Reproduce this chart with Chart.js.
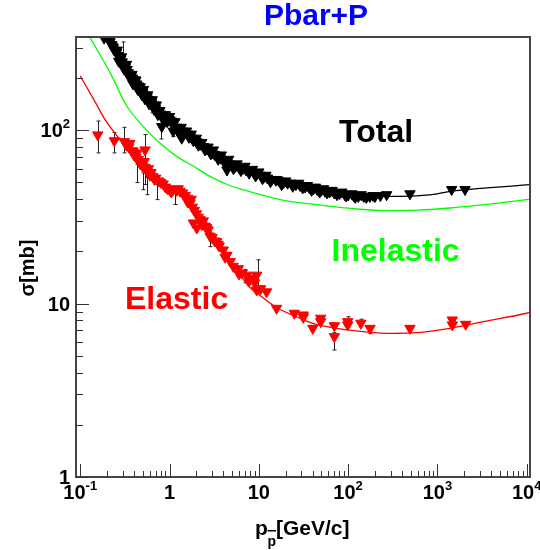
<!DOCTYPE html>
<html>
<head>
<meta charset="utf-8">
<script src="https://cdn.jsdelivr.net/npm/chart.js@4.4.0/dist/chart.umd.min.js"></script>
<style>
    body { margin: 0; background: #fff; }
    #wrap { width: 540px; height: 550px; }
</style>
</head>
<body>
<div id="wrap"><canvas id="chart" width="540" height="550"></canvas></div>
<script>
// Dados (p em GeV/c, sigma em mb)
const totalX = [0.185, 0.20, 0.215, 0.225, 0.235, 0.24, 0.25, 0.255, 0.265, 0.275, 0.285, 0.295, 0.30, 0.31, 0.32, 0.335, 0.345, 0.36, 0.37, 0.385,
    0.40, 0.41, 0.43, 0.45, 0.46, 0.48, 0.50, 0.52, 0.54, 0.56, 0.58, 0.61, 0.63, 0.66, 0.70, 0.73, 0.76, 0.80, 0.82, 0.85,
    0.88, 0.92, 0.96, 1.0, 1.05, 1.1, 1.12, 1.2, 1.3, 1.37, 1.4, 1.5, 1.6, 1.7, 1.8, 1.9, 2.0, 2.2, 2.4, 2.6,
    2.8, 3.0, 3.2, 3.4, 3.7, 4.0, 4.4, 4.4, 4.7, 5.0, 5.5, 6.0, 6.6, 7.2, 8.0, 8.8, 9.5, 10.5, 11.5, 12.5,
    14, 15.5, 17, 19, 21, 23, 26, 29, 33, 37, 41, 45, 50, 55, 62, 70, 80, 92, 100, 115,
    130, 150, 175, 200, 230, 270, 493, 1445, 2040,
    // bordas da faixa densa
    0.22, 0.23, 0.26, 0.27, 0.29, 0.31, 0.33, 0.35, 0.38, 0.39, 0.42, 0.44, 0.47, 0.49, 0.51, 0.53, 0.57, 0.59, 0.64, 0.67,
    0.71, 0.74, 0.78, 0.84, 0.90, 0.94, 1.0, 1.08, 1.15, 1.25, 1.35, 1.45, 1.55, 1.65, 1.75, 1.85, 2.0, 2.1, 2.3, 2.5,
    2.7, 2.9, 3.1, 3.5, 3.8, 4.2, 4.6, 5.2, 5.7, 6.3, 7.0, 7.8, 8.5, 9.2, 10, 11, 12, 13.5, 16, 18,
    20, 24, 28, 31, 35, 39, 43, 48, 53, 58, 66, 75, 85, 95, 110, 120, 140, 160, 190];
const totalY = [340, 345, 322, 312, 300, 290, 288, 280, 270, 262, 258, 248, 240, 236, 230, 224, 215, 210, 205, 200,
    196, 190, 185, 180, 174, 170, 165, 160, 156, 154, 150, 147, 144, 140, 134, 130, 128, 124, 105, 122,
    120, 118, 116, 115, 113, 98.7, 110, 104, 101, 90, 99, 97, 95, 92, 90, 88, 86, 83, 80.5, 78,
    76, 74, 72.5, 71, 69, 67, 65, 59, 64, 63, 62, 61, 60, 59, 58, 57, 56, 55, 54, 53,
    52, 51.5, 51, 50, 49.5, 49.5, 48.5, 48, 47, 46.5, 46, 45.5, 45, 44.5, 44, 43.5, 43, 42.5, 42.3, 42,
    41.5, 41.5, 41.5, 41.5, 42, 42.5, 43, 45.5, 45.5,
    335, 305, 290, 250, 265, 225, 240, 205, 210, 185, 195, 172, 178, 160, 172, 152, 160, 142, 150, 132,
    140, 123, 130, 116, 123, 112, 120, 108, 112, 98, 104, 95, 99, 91, 95, 87, 90, 82, 85, 77,
    80, 73, 77, 68, 72, 64, 68, 60, 64, 58.5, 62, 56.5, 59.5, 54.5, 57.5, 52.5, 55, 50.5, 52, 48.5,
    51, 47.5, 49.5, 46.5, 48, 45, 47, 44, 46, 43.5, 45, 42.5, 44, 41.8, 43, 41, 42.5, 41, 42];

const elasticX = [0.157, 0.241, 0.312, 0.35, 0.377, 0.40, 0.42, 0.448, 0.47, 0.50, 0.532, 0.532, 0.56, 0.605, 0.65,
    0.70, 0.76, 0.85, 0.90, 0.95, 1.0, 1.1, 1.2, 1.31, 1.4, 1.5, 1.6, 1.7, 1.8, 1.85,
    1.9, 2.0, 2.02, 2.1, 2.2, 2.39, 2.5, 2.7, 2.84, 3.0, 3.2, 3.38, 3.6, 4.0, 4.4,
    4.8, 5.18, 5.9, 6.5, 7.33, 8.32, 9.0, 9.46, 9.46, 10.5, 12.2, 15.8, 25, 31.5, 31.5,
    40.2, 49.3, 49.3, 70.2, 70.2, 99, 99, 139, 176, 493, 1470, 1470, 2075,
    0.33, 0.36, 0.39, 0.43, 0.46, 0.52, 0.58, 0.62, 0.68, 0.8, 1.05, 1.25, 1.6, 1.75, 2.3, 2.6, 3.5, 4.2, 6.0, 7.8];
const elasticY = [94, 87, 86, 80, 76, 72, 70, 68, 64, 62, 77, 61, 58, 55, 54,
    53, 51, 49, 47, 46, 45.5, 45.4, 45, 44.5, 43.5, 42, 40.5, 38, 36, 29.2,
    34.5, 33, 27.3, 31.5, 30.5, 30, 28, 26.5, 24.5, 24, 23, 22.8, 21.5, 20.4, 19,
    17.5, 16.4, 15.9, 15, 14.6, 14.0, 13.2, 14.6, 12.0, 12.2, 11.7, 9.4, 8.8, 8.6, 8.34,
    7.2, 8.24, 7.87, 7.46, 6.45, 7.87, 7.54, 7.71, 7.2, 7.2, 8.05, 7.54, 7.6,
    82, 84, 76, 74, 66, 66, 60, 57, 52, 50, 44, 46, 38.5, 40, 28.5, 27.5, 22, 18.5, 14.8, 13.5];

// Barras de erro visíveis
const totalErrX = [0.30, 0.63, 0.80, 1.1];
const totalErrLo = [240, 126, 89, 92];
const totalErrHi = [323, 150, 125, 104];

const elasticErrX = [0.157, 0.241, 0.312, 0.43, 0.51, 0.532, 0.555, 0.72, 1.15, 2.84, 7.0, 9.7, 70.2, 99, 139, 176];
const elasticErrLo = [74, 74, 74, 49.9, 45.4, 48.6, 42.5, 39.8, 37.3, 21.3, 13.2, 11.5, 5.4, 7.6, 7.7, 6.74];
const elasticErrHi = [113, 97, 104, 63.4, 56.7, 94.4, 53.4, 48.6, 44.3, 27.9, 15.7, 17.9, 6.8, 8.4, 8.13, 7.3];

// Curvas ajustadas
const totalFitX = [0.2, 0.267, 0.411, 0.632, 1.0, 1.5, 2.3, 3.1, 4.4, 7.6, 11.2, 23, 48, 100, 250, 500, 1000, 1450, 3000, 10000, 10890];
const totalFitY = [360, 274, 196, 147, 115, 97, 82, 73.5, 65, 58.5, 54, 49.5, 45.8, 42.8, 41.6, 41.7, 43, 44.5, 46.2, 48.4, 48.6];

const elasticFitX = [0.1, 0.15, 0.19, 0.29, 0.45, 0.7, 1.0, 1.4, 2.0, 3.0, 4.0, 5.2, 7.9, 10, 15.8, 25, 40, 100, 294, 586, 1380, 3270, 10000, 10890];
const elasticFitY = [206, 143, 115, 86, 66, 54, 47.5, 42, 34, 25.5, 20.8, 16.8, 12.4, 11.3, 9.5, 8.5, 7.7, 7.05, 6.74, 6.8, 7.2, 7.87, 8.8, 8.9];

const inelasticFitX = [0.1, 0.126, 0.216, 0.332, 0.51, 0.78, 1.2, 1.85, 2.84, 4.5, 6.7, 17.3, 44.5, 100, 248, 600, 1380, 4000, 10000, 10890];
const inelasticFitY = [430, 349, 215, 138, 105, 84.5, 70.7, 62, 54.2, 48.5, 45.4, 39.8, 37.2, 35.5, 34.4, 34.6, 35.6, 37.6, 39.8, 40];

// Rótulos dos eixos
const xTickValues = [0.1, 1, 10, 100, 1000, 10000];
const xTickLabels = [['10', '-1'], ['1', ''], ['10', ''], ['10', '2'], ['10', '3'], ['10', '4']];
const yTickValues = [1, 10, 100];
const yTickLabels = [['1', ''], ['10', ''], ['10', '2']];

const FONT = '"Liberation Sans", Arial, sans-serif';

function pairs(xs, ys) {
    return xs.map((x, i) => ({ x: x, y: ys[i] }));
}

function drawSupLabel(ctx, base, sup, x, y, align) {
    ctx.font = 'bold 20px ' + FONT;
    const wb = ctx.measureText(base).width;
    ctx.font = 'bold 13px ' + FONT;
    const ws = sup ? ctx.measureText(sup).width : 0;
    const total = wb + ws;
    const sx = align === 'right' ? x - total : x - total / 2;
    ctx.textAlign = 'left';
    ctx.textBaseline = 'alphabetic';
    ctx.font = 'bold 20px ' + FONT;
    ctx.fillText(base, sx, y);
    if (sup) {
        ctx.font = 'bold 13px ' + FONT;
        ctx.fillText(sup, sx + wb, y - 9);
    }
}

function drawErrors(ctx, xs, ys, xv, lo, hi) {
    for (let i = 0; i < xv.length; i++) {
        const px = Math.round(xs.getPixelForValue(xv[i])) + 0.5;
        const p1 = ys.getPixelForValue(lo[i]);
        const p2 = ys.getPixelForValue(hi[i]);
        ctx.beginPath();
        ctx.moveTo(px, p1);
        ctx.lineTo(px, p2);
        ctx.moveTo(px - 2, p1);
        ctx.lineTo(px + 2, p1);
        ctx.moveTo(px - 2, p2);
        ctx.lineTo(px + 2, p2);
        ctx.stroke();
    }
}

// Plugin estilo ROOT: moldura, ticks internos, textos
const rootStyle = {
    id: 'rootStyle',
    beforeDatasetsDraw(chart) {
        const ctx = chart.ctx;
        const a = chart.chartArea;
        ctx.save();
        ctx.beginPath();
        ctx.rect(a.left, a.top, a.right - a.left, a.bottom - a.top);
        ctx.clip();
        ctx.strokeStyle = '#222';
        ctx.lineWidth = 1;
        drawErrors(ctx, chart.scales.x, chart.scales.y, totalErrX, totalErrLo, totalErrHi);
        drawErrors(ctx, chart.scales.x, chart.scales.y, elasticErrX, elasticErrLo, elasticErrHi);
        ctx.restore();
    },
    afterDraw(chart) {
        const ctx = chart.ctx;
        const a = chart.chartArea;
        const xs = chart.scales.x;
        const ys = chart.scales.y;
        ctx.save();

        // moldura
        ctx.strokeStyle = '#444';
        ctx.lineWidth = 2;
        ctx.strokeRect(a.left, a.top, a.right - a.left, a.bottom - a.top);

        // ticks
        ctx.lineWidth = 1;
        ctx.strokeStyle = '#333';
        ctx.beginPath();
        for (let d = 0.1; d <= 10000; d *= 10) {
            for (let k = 1; k <= 9; k++) {
                const v = k * d;
                if (v < xs.min || v > xs.max) continue;
                const px = Math.round(xs.getPixelForValue(v)) + 0.5;
                const len = k === 1 ? 13 : 6;
                ctx.moveTo(px, a.bottom);
                ctx.lineTo(px, a.bottom - len);
            }
        }
        for (let d = 1; d <= 100; d *= 10) {
            for (let k = 1; k <= 9; k++) {
                const v = k * d;
                if (v < ys.min || v > ys.max) continue;
                const py = Math.round(ys.getPixelForValue(v)) + 0.5;
                const len = k === 1 ? 13 : 7;
                ctx.moveTo(a.left, py);
                ctx.lineTo(a.left + len, py);
            }
        }
        ctx.stroke();

        // rótulos dos ticks
        ctx.fillStyle = '#000';
        xTickValues.forEach((v, i) => {
            drawSupLabel(ctx, xTickLabels[i][0], xTickLabels[i][1], xs.getPixelForValue(v), 498.5, 'center');
        });
        yTickValues.forEach((v, i) => {
            drawSupLabel(ctx, yTickLabels[i][0], yTickLabels[i][1], 70, ys.getPixelForValue(v) + 7, 'right');
        });

        // título do eixo x: p com subscrito p-barra
        ctx.textAlign = 'left';
        ctx.textBaseline = 'alphabetic';
        ctx.font = 'bold 21px ' + FONT;
        ctx.fillText('p', 255, 535);
        ctx.font = 'bold 14px ' + FONT;
        const wsub = ctx.measureText('p').width;
        ctx.fillText('p', 267.5, 546);
        ctx.fillRect(267.5, 530, wsub, 1.5);
        ctx.font = 'bold 21px ' + FONT;
        ctx.fillText('[GeV/c]', 276, 535);

        // título do eixo y
        ctx.save();
        ctx.translate(28, 268);
        ctx.rotate(-Math.PI / 2);
        ctx.textAlign = 'center';
        ctx.textBaseline = 'middle';
        ctx.font = 'bold 20px ' + FONT;
        ctx.fillText('σ[mb]', 0, 0);
        ctx.restore();

        // título
        ctx.textAlign = 'center';
        ctx.fillStyle = '#0000ff';
        ctx.font = 'bold 30px ' + FONT;
        ctx.fillText('Pbar+P', 316, 25);

        // legendas dentro do gráfico
        ctx.textAlign = 'left';
        ctx.font = 'bold 32px ' + FONT;
        ctx.fillStyle = '#000';
        ctx.fillText('Total', 339, 141.5);
        ctx.fillStyle = '#00ff00';
        ctx.fillText('Inelastic', 331.5, 260.5);
        ctx.fillStyle = '#ff0000';
        ctx.fillText('Elastic', 125, 309);
        ctx.restore();
    }
};

function markers(xs, ys, color) {
    return {
        data: pairs(xs, ys),
        pointStyle: 'triangle',
        rotation: 180,
        pointRadius: 6,
        backgroundColor: color,
        borderColor: color,
        borderWidth: 1,
        showLine: false,
        order: 1
    };
}

function fitLine(xs, ys, color) {
    return {
        data: pairs(xs, ys),
        showLine: true,
        pointRadius: 0,
        borderColor: color,
        borderWidth: 1.3,
        cubicInterpolationMode: 'monotone',
        fill: false,
        order: 2
    };
}

const ctx = document.getElementById('chart').getContext('2d');
new Chart(ctx, {
    type: 'scatter',
    data: {
        datasets: [
            fitLine(inelasticFitX, inelasticFitY, '#00ff00'),
            fitLine(elasticFitX, elasticFitY, '#ff0000'),
            fitLine(totalFitX, totalFitY, '#000000'),
            markers(totalX, totalY, '#000000'),
            markers(elasticX, elasticY, '#ff0000')
        ]
    },
    options: {
        responsive: false,
        animation: false,
        events: [],
        layout: { padding: { left: 76, top: 37, right: 10, bottom: 73 } },
        plugins: {
            legend: { display: false },
            tooltip: { enabled: false }
        },
        scales: {
            x: { type: 'logarithmic', min: 0.0897, max: 10890, bounds: 'data', display: false },
            y: { type: 'logarithmic', min: 1, max: 345, bounds: 'data', display: false }
        }
    },
    plugins: [rootStyle]
});
</script>
</body>
</html>
